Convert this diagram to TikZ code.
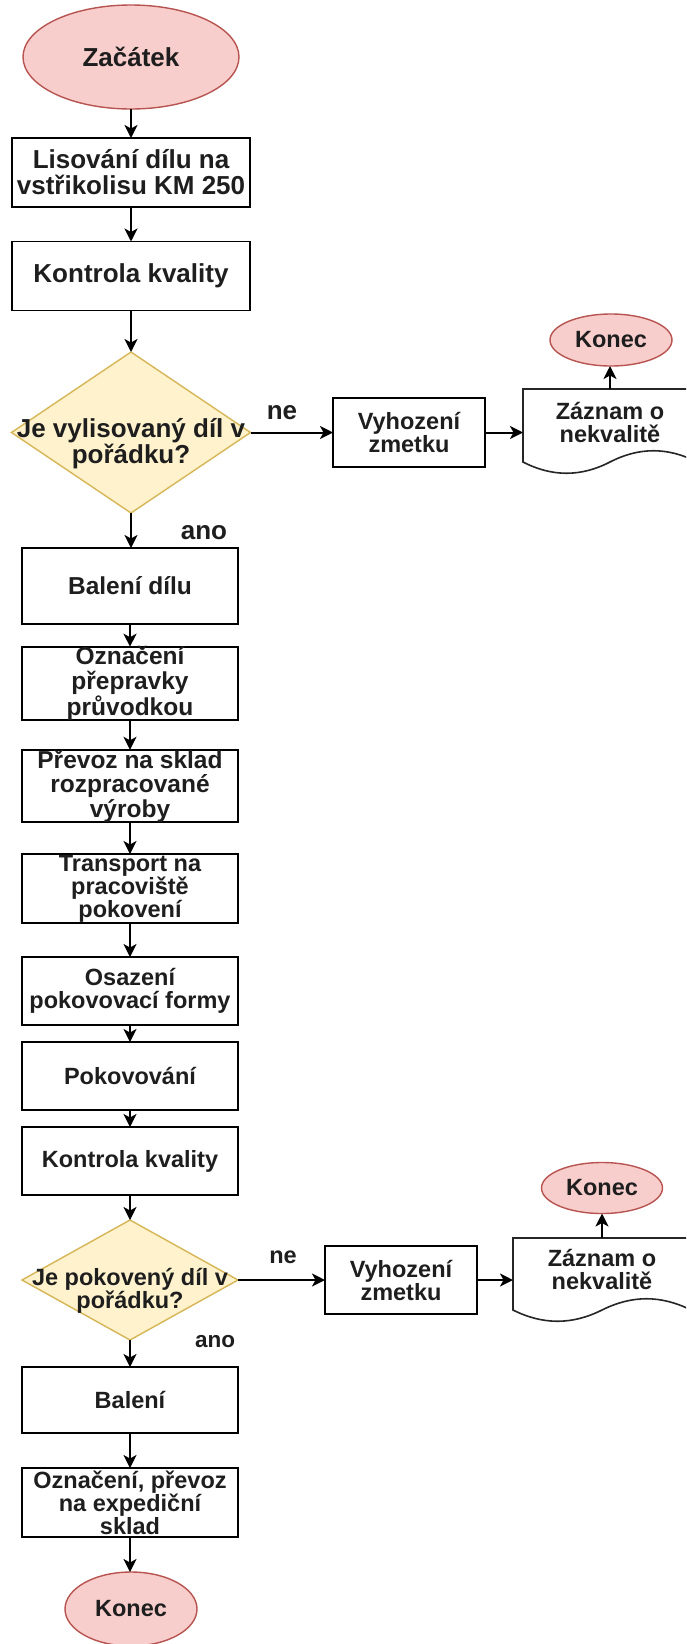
\documentclass[tikz,border=0pt]{standalone}
\usepackage{fontspec}
\setmainfont{Liberation Sans}
\usetikzlibrary{shapes.geometric,arrows.meta}
\definecolor{pinkfill}{HTML}{F8CECC}
\definecolor{pinkline}{HTML}{B85450}
\definecolor{yelfill}{HTML}{FFF2CC}
\definecolor{yelline}{HTML}{D6B656}
\definecolor{ink}{HTML}{1E1E1E}
\begin{document}
\begin{tikzpicture}[x=1pt,y=-1pt,
  every node/.style={inner sep=0pt, outer sep=0pt, text=ink},
  fA/.style={font=\fontsize{26}{26}\selectfont\bfseries},
  fB/.style={font=\fontsize{24.5}{24.5}\selectfont\bfseries},
  fC/.style={font=\fontsize{23.5}{23}\selectfont\bfseries},
  procbox/.style={draw=black, line width=1.8pt, fill=white, align=center},
  term/.style={ellipse, draw=pinkline, line width=1.4pt, fill=pinkfill, align=center},
  decide/.style={diamond, draw=yelline, line width=1.4pt, fill=yelfill, aspect=1},
  docline/.style={draw=black!85, line width=1.6pt, fill=white},
  flow/.style={line width=2pt, draw=black, -{Stealth[length=13pt, width=13pt, inset=3.5pt]}}
]
\useasboundingbox (0,0) rectangle (686,1644);
\clip (0,0) rectangle (686,1644);
\fill[white] (0,0) rectangle (686,1644);

% top column
\node[term, fA, minimum width=216, minimum height=104] (start) at (131,57) {Začátek};
\node[procbox, fA, minimum width=238, minimum height=69] (lis) at (131,172.5) {Lisování dílu na\\vstřikolisu KM 250};
\node[procbox, fA, minimum width=238, minimum height=69] (kk1) at (131,276) {Kontrola kvality};
\node[decide, minimum width=239, minimum height=161] (d1) at (131,432.5) {};
\node[fA, align=center] (d1t) at (131,444) {Je vylisovaný díl v\\pořádku?};
\node[fA] (ne1) at (282,413) {ne};
\node[procbox, fC, minimum width=152, minimum height=69] (vy1) at (409,432.5) {Vyhození\\zmetku};
\node[minimum width=174, minimum height=88] (doc1) at (610,432.5) {};
\draw[docline] (523,389) -- (697,389) -- (697,462) .. controls (668,447) and (639,447) .. (610,462) .. controls (581,477) and (552,477) .. (523,462) -- cycle;
\node[fC, align=center] (doc1t) at (610,422) {Záznam o\\nekvalitě};
\node[term, fC, minimum width=122, minimum height=52] (end1) at (611,340) {Konec};
\node[fA] (ano1) at (204,533) {ano};

% middle column
\node[procbox, fB, minimum width=216, minimum height=76] (bal1) at (130,586) {Balení dílu};
\node[procbox, fB, minimum width=216, minimum height=69] (oz1) at (130,683.5) {Označení\\přepravky\\průvodkou};
\node[procbox, fB, minimum width=216, minimum height=68] (pr) at (130,786) {Převoz na sklad\\rozpracované\\výroby};
\node[procbox, fC, minimum width=216, minimum height=69] (tr) at (130,888.5) {Transport na\\pracoviště\\pokovení};
\node[procbox, fC, minimum width=216, minimum height=68] (os) at (130,991) {Osazení\\pokovovací formy};
\node[procbox, fC, minimum width=216, minimum height=68] (pok) at (130,1076) {Pokovování};
\node[procbox, fC, minimum width=216, minimum height=68] (kk2) at (130,1161) {Kontrola kvality};
\node[decide, minimum width=216, minimum height=120] (d2) at (130,1280) {};
\node[fC, align=center] (d2t) at (130,1291) {Je pokovený díl v\\pořádku?};
\node[fC] (ne2) at (283,1257) {ne};
\node[procbox, fC, minimum width=152, minimum height=68] (vy2) at (401,1280) {Vyhození\\zmetku};
\node[minimum width=178, minimum height=84] (doc2) at (602,1280) {};
\draw[docline] (513,1238) -- (691,1238) -- (691,1310) .. controls (661,1295) and (632,1295) .. (602,1310) .. controls (572,1325) and (543,1325) .. (513,1310) -- cycle;
\node[fC, align=center] (doc2t) at (602,1269) {Záznam o\\nekvalitě};
\node[term, fC, minimum width=121, minimum height=51] (end2) at (602,1188) {Konec};
\node[font=\fontsize{22.5}{22.5}\selectfont\bfseries] (ano2) at (215,1342) {ano};
\node[procbox, fC, minimum width=216, minimum height=66] (bal2) at (130,1400) {Balení};
\node[procbox, fC, minimum width=216, minimum height=69] (oz2) at (130,1502.5) {Označení, převoz\\na expediční\\sklad};
\node[term, fC, minimum width=132, minimum height=74] (end3) at (131,1609) {Konec};

% connectors
\draw[flow] (start) -- (lis);
\draw[flow] (lis) -- (kk1);
\draw[flow] (kk1) -- (d1);
\draw[flow] (d1.east) -- (vy1.west);
\draw[flow] (vy1.east) -- (doc1.west);
\draw[flow] (doc1.north) -- (doc1.north |- end1.south);
\draw[flow] (d1.south) -- (d1.south |- bal1.north);
\draw[flow] (bal1) -- (oz1);
\draw[flow] (oz1) -- (pr);
\draw[flow] (pr) -- (tr);
\draw[flow] (tr) -- (os);
\draw[flow] (os) -- (pok);
\draw[flow] (pok) -- (kk2);
\draw[flow] (kk2) -- (d2);
\draw[flow] (d2.east) -- (vy2.west);
\draw[flow] (vy2.east) -- (doc2.west);
\draw[flow] (doc2.north) -- (end2.south);
\draw[flow] (d2) -- (bal2);
\draw[flow] (bal2) -- (oz2);
\draw[flow] (oz2.south) -- (oz2.south |- end3.north);
\end{tikzpicture}
\end{document}
